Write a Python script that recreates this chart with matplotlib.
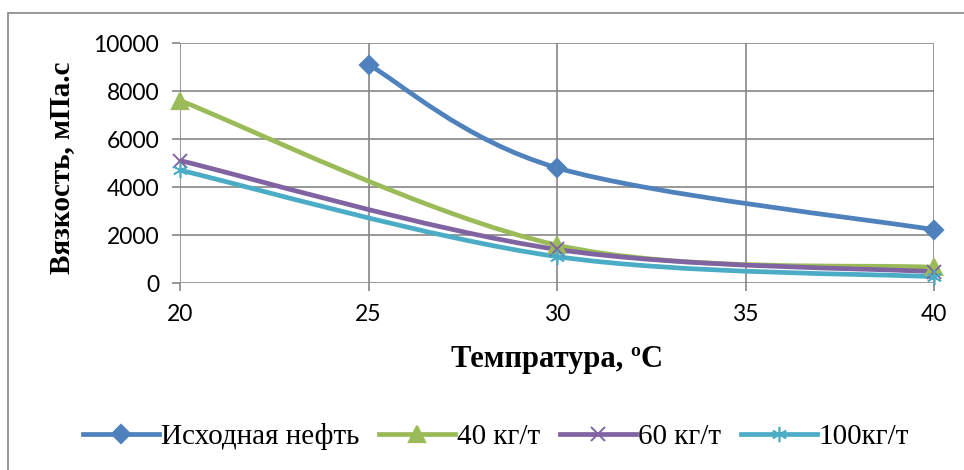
import numpy as np
import matplotlib
matplotlib.use("Agg")
import matplotlib.pyplot as plt
from matplotlib.path import Path
from matplotlib.patches import PathPatch, Rectangle
from matplotlib.lines import Line2D

# данные
temp_base = [25, 30, 40]
visc_base = [9100, 4800, 2220]

temp_add = [20, 30, 40]
visc_40 = [7600, 1580, 650]
visc_60 = [5100, 1400, 470]
visc_100 = [4700, 1100, 260]

labels = ["Исходная нефть", "40 кг/т", "60 кг/т", "100кг/т"]
x_ticks = [20, 25, 30, 35, 40]
y_ticks = [0, 2000, 4000, 6000, 8000, 10000]

colors = ["#4F81BD", "#9BBB59", "#8064A2", "#4BACC6"]
asterisk = (6, 2, 0)
markers = ["D", "^", "x", asterisk]
msizes = [9, 11, 10, 11]
medges = [1.6, 1.6, 1.4, 1.2]


def smooth_path(xs, ys):
    """Сглаженная линия как в Excel (Катмулл-Ром -> кривые Безье)."""
    pts = np.column_stack([xs, ys]).astype(float)
    ext = np.vstack([pts[0], pts, pts[-1]])
    verts = [pts[0]]
    codes = [Path.MOVETO]
    for i in range(len(pts) - 1):
        p0, p1, p2, p3 = ext[i], ext[i + 1], ext[i + 2], ext[i + 3]
        c1 = p1 + (p2 - p0) / 6.0
        c2 = p2 - (p3 - p1) / 6.0
        verts += [c1, c2, p2]
        codes += [Path.CURVE4] * 3
    return Path(verts, codes)


fig = plt.figure(figsize=(9.64, 4.70), dpi=100)
ax = fig.add_axes([180 / 964, 1 - 283 / 470, (934 - 180) / 964, (283 - 43) / 470])

series = [(temp_base, visc_base), (temp_add, visc_40), (temp_add, visc_60), (temp_add, visc_100)]
for (xs, ys), c, m, ms, me in zip(series, colors, markers, msizes, medges):
    ax.add_patch(PathPatch(smooth_path(xs, ys), fill=False, edgecolor=c, lw=3.4,
                           capstyle="round", joinstyle="round", zorder=3))
    ax.plot(xs, ys, linestyle="none", marker=m, markersize=ms, color=c,
            markeredgecolor=c, markeredgewidth=me, zorder=4, clip_on=False)

ax.set_xlim(20, 40)
ax.set_ylim(0, 10000)
ax.set_xticks(x_ticks)
ax.set_yticks(y_ticks)
for s in ax.spines.values():
    s.set_visible(False)
ax.grid(True, color="#868686", lw=1.2)
ax.set_axisbelow(True)
ax.tick_params(direction="out", length=6, width=1.2, color="#868686",
               labelsize=16.5, pad=9)
for lab in ax.get_xticklabels() + ax.get_yticklabels():
    lab.set_family("Lato")

fig.text(62 / 964, 1 - 168 / 470, "Вязкость, мПа.с", rotation=90, ha="center", va="center",
         family="Liberation Serif", weight="bold", fontsize=21)
fig.text(557 / 964, 1 - 360 / 470, "Темпратура, ºС", ha="center", va="center",
         family="Liberation Serif", weight="bold", fontsize=22)

handles = [Line2D([], [], color=c, lw=3.4, marker=m, markersize=ms, markeredgewidth=me)
           for c, m, ms, me in zip(colors, markers, msizes, medges)]
fig.legend(handles, labels, loc="center", bbox_to_anchor=(496 / 964, 1 - 437 / 470), ncol=4,
           frameon=False, prop={"family": "Liberation Serif", "size": 21},
           handlelength=2.6, handletextpad=0.05, columnspacing=0.7)

# рамка диаграммы
fig.add_artist(Rectangle((8 / 964, -0.1), 2, 1 - 13 / 470 + 0.1, transform=fig.transFigure,
                         fill=False, edgecolor="#868686", lw=1.2))

fig.savefig("out.png", dpi=100)
